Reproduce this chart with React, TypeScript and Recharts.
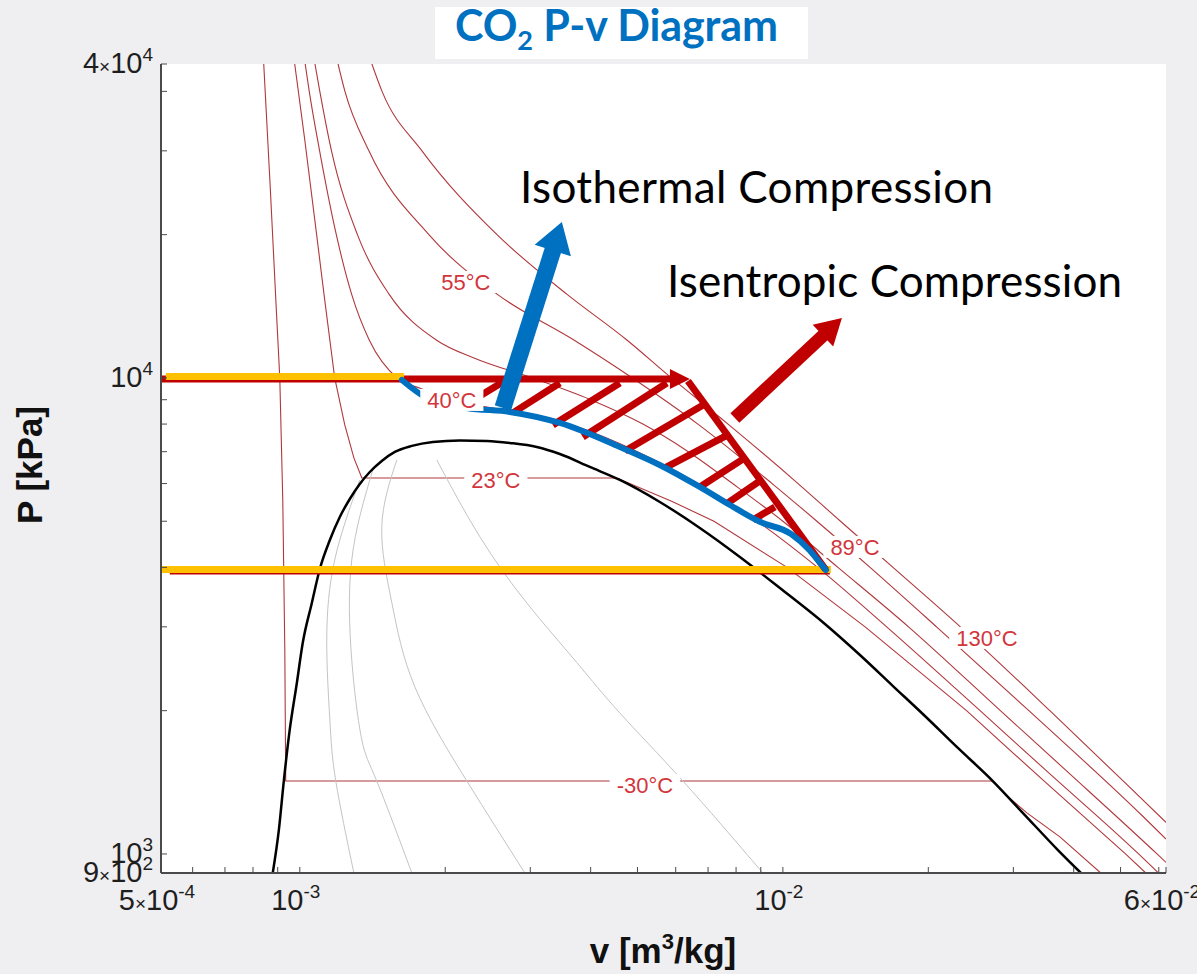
import React from 'react';
import {
  LineChart,
  Line,
  XAxis,
  YAxis,
  CartesianGrid,
  ReferenceLine,
  ReferenceDot,
} from 'recharts';

type Pt = [number, number]; // [v m3/kg, P kPa]

const X_MIN = 5.16e-4;
const X_MAX = 6.21e-2;
const Y_MIN = 912;
const Y_MAX = 45660;

const X_TICKS = [
  X_MIN, 6e-4, 7e-4, 8e-4, 9e-4, 1e-3, 2e-3, 3e-3, 4e-3, 5e-3, 6e-3, 7e-3, 8e-3, 9e-3,
  1e-2, 2e-2, 3e-2, 4e-2, 5e-2, 6e-2, X_MAX,
];
const Y_TICKS = [
  Y_MIN, 1000, 2000, 3000, 4000, 5000, 6000, 7000, 8000, 9000, 10000, 20000, 30000, 40000, Y_MAX,
];
const X_TICK_LABELS = [
  { value: X_MIN, mant: '5', exp: '-4' },
  { value: 1e-3, mant: '', exp: '-3' },
  { value: 1e-2, mant: '', exp: '-2' },
  { value: X_MAX, mant: '6', exp: '-2' },
];
const Y_TICK_LABELS = [
  { value: Y_MIN, mant: '9', exp: '2' },
  { value: 1000, mant: '', exp: '3' },
  { value: 10000, mant: '', exp: '4' },
  { value: Y_MAX, mant: '4', exp: '4' },
];

// saturation dome
const dome: Pt[] = [
  [8.79e-4, 912], [9.05e-4, 1123], [9.27e-4, 1430], [9.53e-4, 1822], [9.86e-4, 2287],
  [1.014e-3, 2774], [1.059e-3, 3367], [1.1e-3, 3969], [1.154e-3, 4566], [1.21e-3, 5105],
  [1.269e-3, 5568], [1.331e-3, 5988], [1.396e-3, 6345], [1.478e-3, 6693], [1.573e-3, 6992],
  [1.706e-3, 7198], [1.885e-3, 7337], [2.144e-3, 7391], [2.439e-3, 7373], [2.721e-3, 7302],
  [3.095e-3, 7162], [3.454e-3, 6922], [3.985e-3, 6502], [4.598e-3, 6105], [5.563e-3, 5488],
  [6.731e-3, 4841], [8.147e-3, 4207], [9.858e-3, 3620], [1.222e-2, 3042], [1.444e-2, 2618],
  [1.69e-2, 2253], [1.968e-2, 1949], [2.303e-2, 1670], [2.72e-2, 1423], [3.155e-2, 1213],
  [3.71e-2, 1019], [4.14e-2, 912],
];

// isotherms
const isoM30: Pt[] = [
  [8.42e-4, 45660], [8.67e-4, 26060], [8.92e-4, 14590], [9.09e-4, 10000], [9.22e-4, 5542],
  [9.31e-4, 2683], [9.35e-4, 1423], [2.72e-2, 1423], [2.91e-2, 1324], [3.2e-2, 1220],
  [3.745e-2, 1086], [4.55e-2, 912],
];
const iso23: Pt[] = [
  [9.76e-4, 45660], [1.024e-3, 31620], [1.074e-3, 21480], [1.126e-3, 14590], [1.181e-3, 10000],
  [1.239e-3, 7965], [1.294e-3, 6794], [1.344e-3, 6165], [4.53e-3, 6165], [5.9e-3, 5500],
  [7.2e-3, 5000], [1.02e-2, 4000], [1.48e-2, 3000], [2.4e-2, 2000], [3.48e-2, 1420],
  [5.12e-2, 1000], [5.64e-2, 912],
];
const iso40: Pt[] = [
  [1.026e-3, 45660], [1.046e-3, 40000], [1.099e-3, 30000], [1.19e-3, 20000], [1.28e-3, 15000],
  [1.393e-3, 12000], [1.59e-3, 10000], [1.78e-3, 9500], [2.06e-3, 9000], [2.78e-3, 8500],
  [3.6e-3, 8000], [5.0e-3, 7000], [6.67e-3, 6000], [8.85e-3, 5000], [1.18e-2, 4000],
  [1.64e-2, 3000], [2.56e-2, 2000], [3.5e-2, 1500], [5.45e-2, 1000], [6.21e-2, 880],
];
const iso55: Pt[] = [
  [1.075e-3, 45660], [1.1e-3, 40000], [1.163e-3, 30000], [1.316e-3, 20000], [1.53e-3, 15000],
  [1.92e-3, 12000], [2.3e-3, 11000], [3.03e-3, 10000], [4.0e-3, 9000], [5.13e-3, 8000],
  [6.37e-3, 7000], [7.87e-3, 6000], [1.0e-2, 5000], [1.3e-2, 4000], [1.82e-2, 3000],
  [2.82e-2, 2000], [3.85e-2, 1500], [5.95e-2, 1000], [6.21e-2, 960],
];
const iso89: Pt[] = [
  [1.2e-3, 45660], [1.24e-3, 40000], [1.39e-3, 30000], [1.85e-3, 20000], [2.56e-3, 15000],
  [3.7e-3, 12000], [4.88e-3, 10000], [6.67e-3, 8000], [9.5e-3, 6000], [1.176e-2, 5000],
  [1.515e-2, 4000], [2.08e-2, 3000], [3.23e-2, 2000], [5.56e-2, 1200], [6.21e-2, 1075],
];
const iso130: Pt[] = [
  [1.41e-3, 45660], [1.48e-3, 40000], [1.79e-3, 30000], [2.56e-3, 20000], [3.57e-3, 15000],
  [4.76e-3, 12000], [5.88e-3, 10000], [7.7e-3, 8000], [1.075e-2, 6000], [1.316e-2, 5000],
  [1.69e-2, 4000], [2.33e-2, 3000], [3.57e-2, 2000], [5.15e-2, 1400], [6.21e-2, 1165],
];

// constant quality lines inside the dome
const qual1: Pt[] = [[1.331e-3, 6105], [1.181e-3, 4146], [1.137e-3, 2815], [1.154e-3, 1912], [1.187e-3, 1423], [1.294e-3, 912]];
const qual2: Pt[] = [[1.416e-3, 6407], [1.281e-3, 4146], [1.281e-3, 2556], [1.344e-3, 1736], [1.443e-3, 1423], [1.706e-3, 912]];
const qual3: Pt[] = [[1.588e-3, 6725], [1.478e-3, 4867], [1.551e-3, 3367], [1.73e-3, 2245], [2.217e-3, 1423], [2.923e-3, 912]];
const qual4: Pt[] = [[1.921e-3, 6725], [2.359e-3, 4637], [2.951e-3, 3367], [3.746e-3, 2523], [4.6e-3, 1976], [6.21e-3, 1423], [9.09e-3, 912]];

const isoLabels = [
  { text: '-30°C', v: 5.18e-3, P: 1396 },
  { text: '23°C', v: 2.546e-3, P: 6105 },
  { text: '40°C', v: 2.064e-3, P: 8990 },
  { text: '55°C', v: 2.207e-3, P: 15910 },
  { text: '89°C', v: 1.41e-2, P: 4416 },
  { text: '130°C', v: 2.645e-2, P: 2843 },
];

// process overlay
const bluePath: Pt[] = [
  [1.627e-3, 9904], [1.832e-3, 9078], [2.217e-3, 8650], [2.721e-3, 8484], [3.454e-3, 8043],
  [4.598e-3, 7160], [5.56e-3, 6565], [6.73e-3, 5902], [7.77e-3, 5408], [8.96e-3, 4986],
  [1.04e-2, 4700], [1.137e-2, 4340], [1.2e-2, 4060], [1.228e-2, 3950],
];
const hatches: [Pt, Pt][] = [
  [[2.249e-3, 8905], [2.633e-3, 9808]],
  [[2.761e-3, 8444], [3.454e-3, 9761]],
  [[3.341e-3, 7966], [4.598e-3, 9761]],
  [[3.854e-3, 7517], [5.753e-3, 9761]],
  [[4.709e-3, 7025], [6.894e-3, 8817]],
  [[5.698e-3, 6470], [7.694e-3, 7592]],
  [[6.731e-3, 5902], [8.342e-3, 6792]],
  [[7.694e-3, 5462], [8.963e-3, 6075]],
  [[8.667e-3, 5031], [9.625e-3, 5358]],
];
const highRed: [Pt, Pt] = [[X_MIN, 9950], [6.42e-3, 9950]];
const highYellow: [Pt, Pt] = [[5.28e-4, 10070], [1.642e-3, 10070]];
const lowRed: [Pt, Pt] = [[5.38e-4, 3893], [1.251e-2, 3893]];
const lowYellow: [Pt, Pt] = [[X_MIN, 3960], [1.257e-2, 3960]];
const isentrope: [Pt, Pt] = [[1.228e-2, 3950], [6.36e-3, 9856]];
const blueArrow: [Pt, Pt] = [[2.633e-3, 8650], [3.487e-3, 21270]];
const redArrow: [Pt, Pt] = [[7.955e-3, 8240], [1.325e-2, 13370]];

const TICK_FONT = '"Liberation Sans", Arial, sans-serif';
const NOTE_FONT = 'Lato, "Open Sans", sans-serif';
const ISO_RED = '#b0383c';
const LABEL_RED = '#d2363c';
const RED = '#c00000';
const YELLOW = '#ffc000';
const BLUE = '#0070c0';
const FRAME = '#4a4a4a';

const pts = (arr: Pt[]) => arr.map(([v, P]) => ({ v, P }));
const seg = (s: [Pt, Pt]) => s.map(([v, P]) => ({ x: v, y: P }));

const charW: Record<string, number> = { '°': 0.4, C: 0.722, '-': 0.333 };
const textWidth = (t: string, size: number) =>
  t.split('').reduce((s, c) => s + (charW[c] ?? 0.556), 0) * size;

function powerLabel(mant: string, exp: string) {
  return (
    <>
      {mant ? (
        <>
          {mant}
          <tspan fontSize={19}>×</tspan>
        </>
      ) : null}
      10
      <tspan fontSize={19} dy={-12}>
        {exp}
      </tspan>
    </>
  );
}

function XTick(props: any) {
  const { x, y, payload } = props;
  const lab = X_TICK_LABELS.find((l) => l.value === payload.value);
  if (!lab) return <g />;
  return (
    <text x={x - 4} y={y + 37} textAnchor="middle" fontFamily={TICK_FONT} fontSize={29} fill="#1e1e1e">
      {powerLabel(lab.mant, lab.exp)}
    </text>
  );
}

function YTick(props: any) {
  const { x, y, payload } = props;
  const lab = Y_TICK_LABELS.find((l) => l.value === payload.value);
  if (!lab) return <g />;
  return (
    <text x={x} y={y + 9} textAnchor="end" fontFamily={TICK_FONT} fontSize={29} fill="#1e1e1e">
      {powerLabel(lab.mant, lab.exp)}
    </text>
  );
}

const NoTick = () => <g />;

function arrowShape(shaft: number, headW: number, headL: number, color: string) {
  return (p: any) => {
    const { x1, y1, x2, y2 } = p;
    const dx = x2 - x1;
    const dy = y2 - y1;
    const len = Math.hypot(dx, dy) || 1;
    const ux = dx / len;
    const uy = dy / len;
    const nx = -uy;
    const ny = ux;
    const bx = x2 - ux * headL;
    const by = y2 - uy * headL;
    const poly = [
      [x2, y2],
      [bx + (nx * headW) / 2, by + (ny * headW) / 2],
      [bx - (nx * headW) / 2, by - (ny * headW) / 2],
    ]
      .map((q) => q.join(','))
      .join(' ');
    return (
      <g>
        <line x1={x1} y1={y1} x2={bx + ux} y2={by + uy} stroke={color} strokeWidth={shaft} />
        <polygon points={poly} fill={color} />
      </g>
    );
  };
}

function labelShape(text: string) {
  return (p: any) => {
    const w = textWidth(text, 22) + 14;
    return (
      <g>
        <rect x={p.cx - w / 2} y={p.cy - 11} width={w} height={22} fill="#ffffff" />
        <text x={p.cx} y={p.cy + 8} textAnchor="middle" fontFamily={TICK_FONT} fontSize={22} fill={LABEL_RED}>
          {text}
        </text>
      </g>
    );
  };
}

const isoLines: { name: string; data: Pt[]; curve: 'linear' | 'monotone' }[] = [
  { name: 'm30', data: isoM30, curve: 'linear' },
  { name: 't23', data: iso23, curve: 'linear' },
  { name: 't40', data: iso40, curve: 'monotone' },
  { name: 't55', data: iso55, curve: 'monotone' },
  { name: 't89', data: iso89, curve: 'monotone' },
  { name: 't130', data: iso130, curve: 'monotone' },
];

export default function App() {
  return (
    <div
      style={{
        position: 'absolute',
        left: 0,
        top: 0,
        width: 1197,
        height: 974,
        background: '#efeff1',
        overflow: 'hidden',
      }}
    >
      <LineChart width={1197} height={974} margin={{ top: 64, right: 31, bottom: 41, left: 61 }}>
        <CartesianGrid fill="#ffffff" horizontal={false} vertical={false} />
        <XAxis
          dataKey="v"
          type="number"
          scale="log"
          domain={[X_MIN, X_MAX]}
          allowDataOverflow
          ticks={X_TICKS}
          interval={0}
          height={60}
          tickSize={-6}
          tickMargin={6}
          tick={<XTick />}
          axisLine={{ stroke: FRAME, strokeWidth: 2 }}
          tickLine={{ stroke: FRAME }}
        />
        <XAxis
          xAxisId="top"
          orientation="top"
          type="number"
          scale="log"
          domain={[X_MIN, X_MAX]}
          allowDataOverflow
          ticks={X_TICKS}
          interval={0}
          height={0}
          tickSize={-6}
          tick={<NoTick />}
          axisLine={{ stroke: FRAME, strokeWidth: 2 }}
          tickLine={{ stroke: FRAME }}
        />
        <YAxis
          dataKey="P"
          type="number"
          scale="log"
          domain={[Y_MIN, Y_MAX]}
          allowDataOverflow
          ticks={Y_TICKS}
          interval={0}
          width={100}
          tickSize={-6}
          tickMargin={14}
          tick={<YTick />}
          axisLine={{ stroke: FRAME, strokeWidth: 2 }}
          tickLine={{ stroke: FRAME }}
        />
        <YAxis
          yAxisId="right"
          orientation="right"
          type="number"
          scale="log"
          domain={[Y_MIN, Y_MAX]}
          allowDataOverflow
          ticks={Y_TICKS}
          interval={0}
          width={0}
          tickSize={-6}
          tick={<NoTick />}
          axisLine={{ stroke: FRAME, strokeWidth: 2 }}
          tickLine={{ stroke: FRAME }}
        />

        {isoLines.map((s) => (
          <Line
            key={s.name}
            data={pts(s.data)}
            dataKey="P"
            type={s.curve}
            stroke={ISO_RED}
            strokeWidth={1.1}
            dot={false}
            activeDot={false}
            isAnimationActive={false}
          />
        ))}
        {[qual1, qual2, qual3, qual4].map((q, i) => (
          <Line
            key={'q' + i}
            data={pts(q)}
            dataKey="P"
            type="natural"
            stroke="#c4c4c4"
            strokeWidth={1}
            dot={false}
            activeDot={false}
            isAnimationActive={false}
          />
        ))}
        <Line
          data={pts(dome)}
          dataKey="P"
          type="monotone"
          stroke="#000000"
          strokeWidth={2.5}
          dot={false}
          activeDot={false}
          isAnimationActive={false}
        />

        {isoLabels.map((l) => (
          <ReferenceDot key={l.text} x={l.v} y={l.P} r={0} shape={labelShape(l.text)} ifOverflow="visible" />
        ))}

        <ReferenceLine segment={seg(highRed)} ifOverflow="visible" shape={arrowShape(7, 20, 20, RED)} />
        <ReferenceLine segment={seg(highYellow)} ifOverflow="visible" stroke={YELLOW} strokeWidth={7} />
        <ReferenceLine segment={seg(lowRed)} ifOverflow="visible" stroke={RED} strokeWidth={3} />
        <ReferenceLine segment={seg(lowYellow)} ifOverflow="visible" stroke={YELLOW} strokeWidth={7} />
        <ReferenceLine segment={seg(isentrope)} ifOverflow="visible" stroke={RED} strokeWidth={7} />
        {hatches.map((h, i) => (
          <ReferenceLine key={'h' + i} segment={seg(h)} ifOverflow="visible" stroke={RED} strokeWidth={7} />
        ))}
        <Line
          data={pts(bluePath)}
          dataKey="P"
          type="monotone"
          stroke={BLUE}
          strokeWidth={6}
          strokeLinecap="round"
          dot={false}
          activeDot={false}
          isAnimationActive={false}
        />
        <ReferenceLine segment={seg(blueArrow)} ifOverflow="visible" shape={arrowShape(17, 38, 30, BLUE)} />
        <ReferenceLine segment={seg(redArrow)} ifOverflow="visible" shape={arrowShape(13, 30, 26, RED)} />
      </LineChart>

      <svg
        width={1197}
        height={974}
        style={{ position: 'absolute', left: 0, top: 0, pointerEvents: 'none' }}
      >
        <rect x={435} y={7} width={373} height={52} fill="#ffffff" />
        <text
          x={455}
          y={41}
          fontFamily={NOTE_FONT}
          fontWeight={700}
          fontSize={43}
          fill={BLUE}
          textLength={323}
          lengthAdjust="spacing"
        >
          CO
          <tspan fontSize={27} dy={9}>
            2
          </tspan>
          <tspan dy={-9}> P-v Diagram</tspan>
        </text>
        <text x={520} y={203} fontFamily={NOTE_FONT} fontSize={44} fill="#000" textLength={473} lengthAdjust="spacing">
          Isothermal Compression
        </text>
        <text x={667} y={297} fontFamily={NOTE_FONT} fontSize={44} fill="#000" textLength={455} lengthAdjust="spacing">
          Isentropic Compression
        </text>
        <text
          x={42}
          y={465}
          transform="rotate(-90, 42, 465)"
          textAnchor="middle"
          fontFamily={TICK_FONT}
          fontWeight={700}
          fontSize={35}
          fill="#111"
        >
          P [kPa]
        </text>
        <text x={663} y={963} textAnchor="middle" fontFamily={TICK_FONT} fontWeight={700} fontSize={35} fill="#111">
          v [m
          <tspan fontSize={22} dy={-14}>
            3
          </tspan>
          <tspan dy={14}>/kg]</tspan>
        </text>
      </svg>
    </div>
  );
}
